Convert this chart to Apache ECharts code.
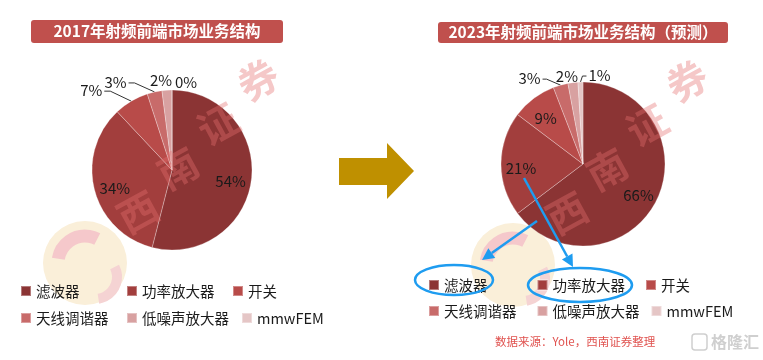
<!DOCTYPE html>
<html><head><meta charset="utf-8">
<script src="https://cdn.jsdelivr.net/npm/echarts@6/dist/echarts.min.js"></script>
<style>html,body{margin:0;padding:0;background:#fff}#c{width:763px;height:360px}</style>
</head><body><div id="c"></div>
<script>
const categories = ['滤波器','功率放大器','开关','天线调谐器','低噪声放大器','mmwFEM'];
const share2017 = [54,34,7,3,2,0];
const share2023 = [66,21,9,3,2,1];
const title2017 = '2017年射频前端市场业务结构';
const title2023 = '2023年射频前端市场业务结构（预测）';
const sourceText = '数据来源：Yole，西南证券整理';
const colors = ['#8B3434','#A23E3D','#B84B49','#C86B6A','#D8A1A1','#E5C6C6'];
const FONT = '"Noto Sans CJK SC","Noto Sans",sans-serif';
const INSIDE_MIN = 8;
// leader styling for outside labels: [elbowDx, elbowDy, horizontalLen, showLine]
const leader2017 = {2:[-21,-10,-6,true], 3:[-20,-9,-6,true], 4:[-6,-10,0,false], 5:[14,-8,0,false]};
const leader2023 = {3:[-14,-6,-4,true], 4:[-6,-6,0,false], 5:[2,-6,4,true]};

function mainData(vals){
  return vals.map((v,i)=>({name:categories[i], value:v,
    itemStyle:{color:colors[i]},
    label:{show: v < INSIDE_MIN}
  }));
}
function overlayData(vals){
  return vals.map((v,i)=>({name:categories[i], value:v,
    itemStyle:{color:'rgba(0,0,0,0)'},
    label:{show: v >= INSIDE_MIN}
  }));
}
function makeLayout(cfg){
  return function(p){
    const c = cfg[p.dataIndex];
    if(!c || !p.labelLinePoints) return {hideOverlap:false};
    const p0 = p.labelLinePoints[0];
    const e = [p0[0]+c[0], p0[1]+c[1]];
    const end = [e[0]+c[2], e[1]];
    const pad = c[2] < 0 ? -2 : (c[2] > 0 ? 2 : 0);
    const align = c[2] < 0 ? 'right' : (c[2] > 0 ? 'left' : 'center');
    return {x:end[0]+pad, y:end[1]-(c[3]?1:0), align, verticalAlign:'middle', hideOverlap:false,
      labelLinePoints: c[3] ? [p0, e, end] : [p0.slice(), p0.slice(), p0.slice()]};
  };
}
function pieMain(center, r, vals, cfg){
  return {type:'pie', center, radius:r, startAngle:90, clockwise:true,
    avoidLabelOverlap:false, z:3,
    itemStyle:{borderColor:'rgba(255,255,255,0.35)', borderWidth:0.8},
    label:{position:'outside', formatter:p=>p.value+'%', fontSize:15, color:'#1a1a1a', fontFamily:FONT, distanceToLabelLine:0},
    labelLine:{show:true, length:12, length2:10, lineStyle:{color:'#333', width:1}},
    labelLayout: makeLayout(cfg),
    emphasis:{disabled:true}, data: mainData(vals)};
}
function pieOverlay(center, r0, r, vals){
  return {type:'pie', center, radius:[r0,r], startAngle:90, clockwise:true, silent:true, z:4,
    label:{position:'inside', formatter:p=>p.value+'%', fontSize:15, color:'#1a1a1a', fontFamily:FONT, offset:[0,4]},
    labelLine:{show:false}, emphasis:{disabled:true}, data: overlayData(vals)};
}
function legend(left, top, textW, gap){
  return {left, top, width:330, padding:0, itemWidth:10, itemHeight:10, itemGap:gap, icon:'rect',
    selectedMode:false,
    textStyle:{fontSize:14.5, width:textW, lineHeight:15, color:'#1a1a1a', fontFamily:FONT},
    data: categories.map((n,i)=>({name:n, itemStyle:{color:colors[i]}}))};
}
function titleBox(x,y,w,h,txt){
  return {type:'group', children:[
    {type:'rect', shape:{x,y,width:w,height:h,r:3}, style:{fill:'#C0504D'}},
    {type:'text', x:x+w/2, y:y+h/2, style:{text:txt, fill:'#fff', font:'bold 15.5px '+FONT, textAlign:'center', textVerticalAlign:'middle'}}
  ]};
}
function arrowLine(x1,y1,x2,y2,color){
  const a=Math.atan2(y2-y1,x2-x1), L=12, W=6;
  const bx=x2-L*Math.cos(a), by=y2-L*Math.sin(a);
  return {type:'group', z:100, children:[
    {type:'line', z:100, shape:{x1,y1,x2:bx,y2:by}, style:{stroke:color, lineWidth:2.5}},
    {type:'polygon', z:100, shape:{points:[[x2,y2],[bx+W*Math.sin(a),by-W*Math.cos(a)],[bx-W*Math.sin(a),by+W*Math.cos(a)]]}, style:{fill:color}}
  ]};
}
function logo(cx,cy){
  return {type:'group', z:0, children:[
    {type:'circle', shape:{cx,cy,r:42}, style:{fill:'#FAEFD9'}},
    {type:'arc', shape:{cx,cy,r:27,startAngle:Math.PI*1.05,endAngle:Math.PI*1.65}, style:{stroke:'#F5C8CB', lineWidth:13, fill:null}},
    {type:'arc', shape:{cx:cx+10,cy:cy+14,r:22,startAngle:-Math.PI*0.15,endAngle:Math.PI*0.45}, style:{stroke:'#F5D3D3', lineWidth:10, fill:null}}
  ]};
}
function watermark(x0,y0){
  const chars=['西','南','证','券'];
  return {type:'group', z:50, silent:true, children: chars.map((c,i)=>({type:'text', z:50, x:x0+i*40, y:y0-i*44, rotation:0.5,
    style:{text:c, font:'bold 40px '+FONT, fill:'rgba(230,110,110,0.38)', textAlign:'center', textVerticalAlign:'middle'}}))};
}
const chart = echarts.init(document.getElementById('c'), null, {renderer:'canvas'});
chart.setOption({
  animation:false,
  legend:[legend(20,283.5,78,12), legend(428,277.5,81.5,11)],
  series:[
    pieMain([172,170],80,share2017,leader2017), pieOverlay([172,170],32,80,share2017),
    pieMain([583,164],82,share2023,leader2023), pieOverlay([583,164],36,82,share2023)
  ],
  graphic:[
    logo(85,263), logo(513,265),
    titleBox(31,20,252,23,title2017), titleBox(438,22,290,21,title2023),
    {type:'polygon', shape:{points:[[339,158],[387,158],[387,143],[414,171],[387,199],[387,185],[339,185]]}, style:{fill:'#BF9000'}},
    watermark(138,212), watermark(567,213),
    arrowLine(537,221,482,260,'#1E9CF0'), arrowLine(524,178,573,267,'#1E9CF0'),
    {type:'ellipse', z:100, shape:{cx:454,cy:280,rx:39,ry:15}, style:{stroke:'#1E9CF0', lineWidth:2.5, fill:null}},
    {type:'ellipse', z:100, shape:{cx:580,cy:285,rx:52,ry:17}, style:{stroke:'#1E9CF0', lineWidth:2.5, fill:null}},
    {type:'text', x:495, y:342, style:{text:sourceText, fill:'#E0524F', font:'11.5px '+FONT, textVerticalAlign:'middle'}},
    {type:'rect', shape:{x:692,y:334,width:15,height:16,r:3}, style:{stroke:'#cfcfcf', lineWidth:1.5, fill:null}},
    {type:'text', x:711, y:342, style:{text:'格隆汇', fill:'#cfcfcf', font:'bold 16px '+FONT, textVerticalAlign:'middle'}}
  ]
});
</script></body></html>
